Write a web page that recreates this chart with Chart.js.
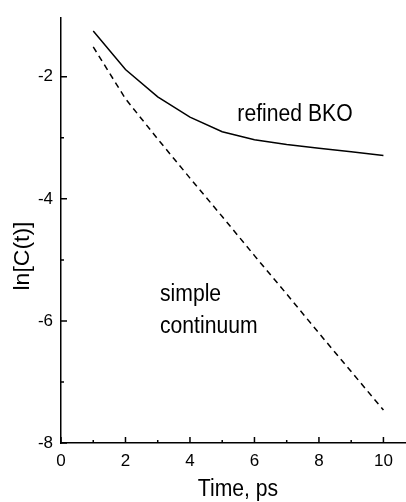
<!DOCTYPE html>
<html>
<head>
<meta charset="utf-8">
<script src="https://cdn.jsdelivr.net/npm/chart.js@4/dist/chart.umd.min.js"></script>
<style>
  body { margin: 0; background: #fff; }
  #wrap { width: 406px; height: 502px; }
</style>
</head>
<body>
<div id="wrap"><canvas id="myChart" width="406" height="502"></canvas></div>
<script>
// data
const times = [1, 2, 3, 4, 5, 6, 7, 8, 9, 10]
const bkoValues = [-1.25, -1.88, -2.33, -2.66, -2.90, -3.03, -3.11, -3.17, -3.23, -3.29]
const continuumValues = [-1.51, -2.36, -3.02, -3.66, -4.29, -4.93, -5.56, -6.20, -6.83, -7.46]
const xTicks = [0, 2, 4, 6, 8, 10]
const yTicks = [-8, -6, -4, -2]
const xMinor = [1, 3, 5, 7, 9]
const yMinor = [-7, -5, -3]

const fontFam = '"Liberation Sans", Arial, sans-serif'
// the source text looks a bit narrow, so squeeze it sideways
const squeeze = 0.92

// labels on the plot, placed in data units
const notes = [
  {text: 'refined BKO', x: 5.47, y: -2.72},
  {text: 'simple', x: 3.07, y: -5.67},
  {text: 'continuum', x: 3.07, y: -6.20}
]

const toPoints = (xs, ys) => xs.map((x, i) => ({x: x, y: ys[i]}))

const squeezedText = (ctx, text, x, y) => {
  ctx.save()
  ctx.translate(x, y)
  ctx.scale(squeeze, 1)
  ctx.fillText(text, 0, 0)
  ctx.restore()
}

// inward tick marks, notes and axis titles
const decor = {
  id: 'decor',
  afterDraw: (chart) => {
    const ctx = chart.ctx
    const xs = chart.scales.x
    const ys = chart.scales.y
    const area = chart.chartArea
    ctx.save()
    ctx.strokeStyle = '#000'
    ctx.lineWidth = 1.5
    ctx.beginPath()
    xTicks.forEach(v => { const p = xs.getPixelForValue(v); ctx.moveTo(p, area.bottom); ctx.lineTo(p, area.bottom - 6) })
    xMinor.forEach(v => { const p = xs.getPixelForValue(v); ctx.moveTo(p, area.bottom); ctx.lineTo(p, area.bottom - 3) })
    yTicks.forEach(v => { const p = ys.getPixelForValue(v); ctx.moveTo(area.left, p); ctx.lineTo(area.left + 6, p) })
    yMinor.forEach(v => { const p = ys.getPixelForValue(v); ctx.moveTo(area.left, p); ctx.lineTo(area.left + 3, p) })
    ctx.stroke()

    ctx.fillStyle = '#000'
    ctx.font = '23px ' + fontFam
    ctx.textAlign = 'left'
    ctx.textBaseline = 'alphabetic'
    notes.forEach(n => squeezedText(ctx, n.text, xs.getPixelForValue(n.x), ys.getPixelForValue(n.y)))

    ctx.textAlign = 'center'
    ctx.textBaseline = 'middle'
    squeezedText(ctx, 'Time, ps', 238, 490)
    // rotated title: squeeze its thickness, not its length
    ctx.translate(23, 256)
    ctx.rotate(-Math.PI / 2)
    ctx.scale(1, squeeze)
    ctx.fillText('ln[C(t)]', 0, 0)
    ctx.restore()
  }
}

const data = {
  datasets: [
    {
      label: 'refined BKO',
      data: toPoints(times, bkoValues),
      borderColor: '#000',
      borderWidth: 1.5,
      pointRadius: 0,
      fill: false,
      tension: 0
    },
    {
      label: 'simple continuum',
      data: toPoints(times, continuumValues),
      borderColor: '#000',
      borderWidth: 1.5,
      borderDash: [6, 4.5],
      pointRadius: 0,
      fill: false,
      tension: 0
    }
  ]
}

const config = {
  type: 'line',
  data,
  options: {
    responsive: false,
    animation: false,
    layout: {padding: {top: 13, right: 0, left: 0, bottom: 0}},
    plugins: {legend: {display: false}, tooltip: {enabled: false}},
    scales: {
      x: {
        type: 'linear',
        min: 0,
        max: 10.7,
        afterBuildTicks: (s) => { s.ticks = xTicks.map(v => ({value: v})) },
        afterFit: (s) => { s.height = 59 },
        grid: {display: false, drawTicks: false},
        border: {display: true, color: '#000', width: 1.5},
        ticks: {color: '#000', padding: 8, maxRotation: 0, font: {size: 17, family: fontFam}}
      },
      y: {
        type: 'linear',
        min: -8,
        max: -1.04,
        afterBuildTicks: (s) => { s.ticks = yTicks.map(v => ({value: v})) },
        afterFit: (s) => { s.width = 61 },
        grid: {display: false, drawTicks: false},
        border: {display: true, color: '#000', width: 1.5},
        ticks: {color: '#000', padding: 8, font: {size: 17, family: fontFam}}
      }
    }
  },
  plugins: [decor]
}

const myChart = new Chart(document.getElementById('myChart'), config)
</script>
</body>
</html>
